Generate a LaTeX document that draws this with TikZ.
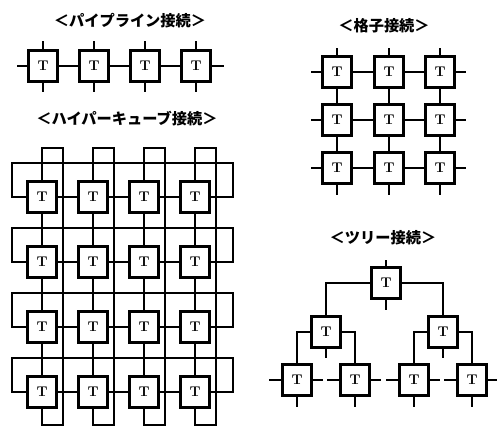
\documentclass[tikz,border=0pt]{standalone}
\usepackage{fontspec}
\newfontfamily\jpfont{Noto Sans CJK JP}
\usetikzlibrary{calc}

\begin{document}
\begin{tikzpicture}[
  x=0.3mm, y=-0.3mm,
  tbox/.style={rectangle, draw, fill=white, line width=2.6pt,
               minimum width=8.6mm, minimum height=9.2mm, inner sep=0pt,
               font=\fontsize{12}{14}\selectfont\bfseries},
  link/.style={line width=1.4pt},
  ttl/.style={font=\jpfont\bfseries\fontsize{13}{15}\selectfont}
]
\useasboundingbox (0,0) rectangle (497,429);

% Titles
\node[ttl] (tpipe) at (130,21)  {＜パイプライン接続＞};
\node[ttl] (thc)   at (127,119) {＜ハイパーキューブ接続＞};
\node[ttl] (tgrid) at (384,26)  {＜格子接続＞};
\node[ttl] (ttree) at (383,238) {＜ツリー接続＞};

% --- Pipeline ---
\node[tbox] (p1) at (43,66)  {T};
\node[tbox] (p2) at (94,66)  {T};
\node[tbox] (p3) at (145,66) {T};
\node[tbox] (p4) at (196,66) {T};

\draw[link] (p1) -- (p2);
\draw[link] (p2) -- (p3);
\draw[link] (p3) -- (p4);
\draw[link] (p1.west) -- ++(-10,0);
\draw[link] (p4.east) -- ++(12,0);
\draw[link] (p1.north) -- ++(0,-8);
\draw[link] (p2.north) -- ++(0,-8);
\draw[link] (p3.north) -- ++(0,-8);
\draw[link] (p4.north) -- ++(0,-8);
\draw[link] (p1.south) -- ++(0,9);
\draw[link] (p2.south) -- ++(0,9);
\draw[link] (p3.south) -- ++(0,9);
\draw[link] (p4.south) -- ++(0,9);

% --- Hypercube (4x4 torus) ---
\node[tbox] (h11) at (42,197)  {T};
\node[tbox] (h12) at (93,197)  {T};
\node[tbox] (h13) at (144,197) {T};
\node[tbox] (h14) at (195,197) {T};
\node[tbox] (h21) at (42,262)  {T};
\node[tbox] (h22) at (93,262)  {T};
\node[tbox] (h23) at (144,262) {T};
\node[tbox] (h24) at (195,262) {T};
\node[tbox] (h31) at (42,327)  {T};
\node[tbox] (h32) at (93,327)  {T};
\node[tbox] (h33) at (144,327) {T};
\node[tbox] (h34) at (195,327) {T};
\node[tbox] (h41) at (42,392)  {T};
\node[tbox] (h42) at (93,392)  {T};
\node[tbox] (h43) at (144,392) {T};
\node[tbox] (h44) at (195,392) {T};

% rows
\draw[link] (h11) -- (h12);
\draw[link] (h12) -- (h13);
\draw[link] (h13) -- (h14);
\draw[link] (h21) -- (h22);
\draw[link] (h22) -- (h23);
\draw[link] (h23) -- (h24);
\draw[link] (h31) -- (h32);
\draw[link] (h32) -- (h33);
\draw[link] (h33) -- (h34);
\draw[link] (h41) -- (h42);
\draw[link] (h42) -- (h43);
\draw[link] (h43) -- (h44);

% columns
\draw[link] (h11) -- (h21);
\draw[link] (h21) -- (h31);
\draw[link] (h31) -- (h41);
\draw[link] (h12) -- (h22);
\draw[link] (h22) -- (h32);
\draw[link] (h32) -- (h42);
\draw[link] (h13) -- (h23);
\draw[link] (h23) -- (h33);
\draw[link] (h33) -- (h43);
\draw[link] (h14) -- (h24);
\draw[link] (h24) -- (h34);
\draw[link] (h34) -- (h44);

% row wrap-around
\draw[link] (h11.west) -- ++(-14,0) |- ($(h14.east)+(22,-34)$) |- (h14.east);
\draw[link] (h21.west) -- ++(-14,0) |- ($(h24.east)+(22,-34)$) |- (h24.east);
\draw[link] (h31.west) -- ++(-14,0) |- ($(h34.east)+(22,-34)$) |- (h34.east);
\draw[link] (h41.west) -- ++(-14,0) |- ($(h44.east)+(22,-34)$) |- (h44.east);

% column wrap-around
\draw[link] (h11.north) -- ++(0,-32) -| ($(h41.south)+(21,16)$) -| (h41.south);
\draw[link] (h12.north) -- ++(0,-32) -| ($(h42.south)+(21,16)$) -| (h42.south);
\draw[link] (h13.north) -- ++(0,-32) -| ($(h43.south)+(21,16)$) -| (h43.south);
\draw[link] (h14.north) -- ++(0,-32) -| ($(h44.south)+(21,16)$) -| (h44.south);

% --- Lattice ---
\node[tbox] (g11) at (337,72)  {T};
\node[tbox] (g12) at (389,72)  {T};
\node[tbox] (g13) at (440,72)  {T};
\node[tbox] (g21) at (337,120) {T};
\node[tbox] (g22) at (389,120) {T};
\node[tbox] (g23) at (440,120) {T};
\node[tbox] (g31) at (337,168) {T};
\node[tbox] (g32) at (389,168) {T};
\node[tbox] (g33) at (440,168) {T};

\draw[link] (g11) -- (g12);
\draw[link] (g12) -- (g13);
\draw[link] (g21) -- (g22);
\draw[link] (g22) -- (g23);
\draw[link] (g31) -- (g32);
\draw[link] (g32) -- (g33);
\draw[link] (g11) -- (g21);
\draw[link] (g21) -- (g31);
\draw[link] (g12) -- (g22);
\draw[link] (g22) -- (g32);
\draw[link] (g13) -- (g23);
\draw[link] (g23) -- (g33);

\draw[link] (g11.west) -- ++(-10,0);
\draw[link] (g21.west) -- ++(-10,0);
\draw[link] (g31.west) -- ++(-10,0);
\draw[link] (g13.east) -- ++(10,0);
\draw[link] (g23.east) -- ++(10,0);
\draw[link] (g33.east) -- ++(10,0);
\draw[link] (g11.north) -- ++(0,-7);
\draw[link] (g12.north) -- ++(0,-7);
\draw[link] (g13.north) -- ++(0,-7);
\draw[link] (g31.south) -- ++(0,10);
\draw[link] (g32.south) -- ++(0,10);
\draw[link] (g33.south) -- ++(0,10);

% --- Tree ---
\node[tbox] (root) at (386,283) {T};
\node[tbox] (tl)   at (326,332) {T};
\node[tbox] (tr)   at (443,332) {T};
\node[tbox] (lf1)  at (297,380) {T};
\node[tbox] (lf2)  at (355,380) {T};
\node[tbox] (lf3)  at (414,380) {T};
\node[tbox] (lf4)  at (472,380) {T};

\draw[link] (root.west) -| (tl.north);
\draw[link] (root.east) -| (tr.north);
\draw[link] (tl.west) -| (lf1.north);
\draw[link] (tl.east) -| (lf2.north);
\draw[link] (tr.west) -| (lf3.north);
\draw[link] (tr.east) -| (lf4.north);

\draw[link] (root.north) -- ++(0,-6);
\draw[link] (root.south) -- ++(0,10);
\draw[link] (tl.south) -- ++(0,9);
\draw[link] (tr.south) -- ++(0,9);
\draw[link] (lf1.west) -- ++(-12,0);
\draw[link] (lf2.west) -- ++(-12,0);
\draw[link] (lf3.west) -- ++(-12,0);
\draw[link] (lf4.west) -- ++(-12,0);
\draw[link] (lf1.east) -- ++(10,0);
\draw[link] (lf2.east) -- ++(10,0);
\draw[link] (lf3.east) -- ++(10,0);
\draw[link] (lf4.east) -- ++(9,0);
\draw[link] (lf1.south) -- ++(0,10);
\draw[link] (lf2.south) -- ++(0,10);
\draw[link] (lf3.south) -- ++(0,10);
\draw[link] (lf4.south) -- ++(0,10);

\end{tikzpicture}
\end{document}
